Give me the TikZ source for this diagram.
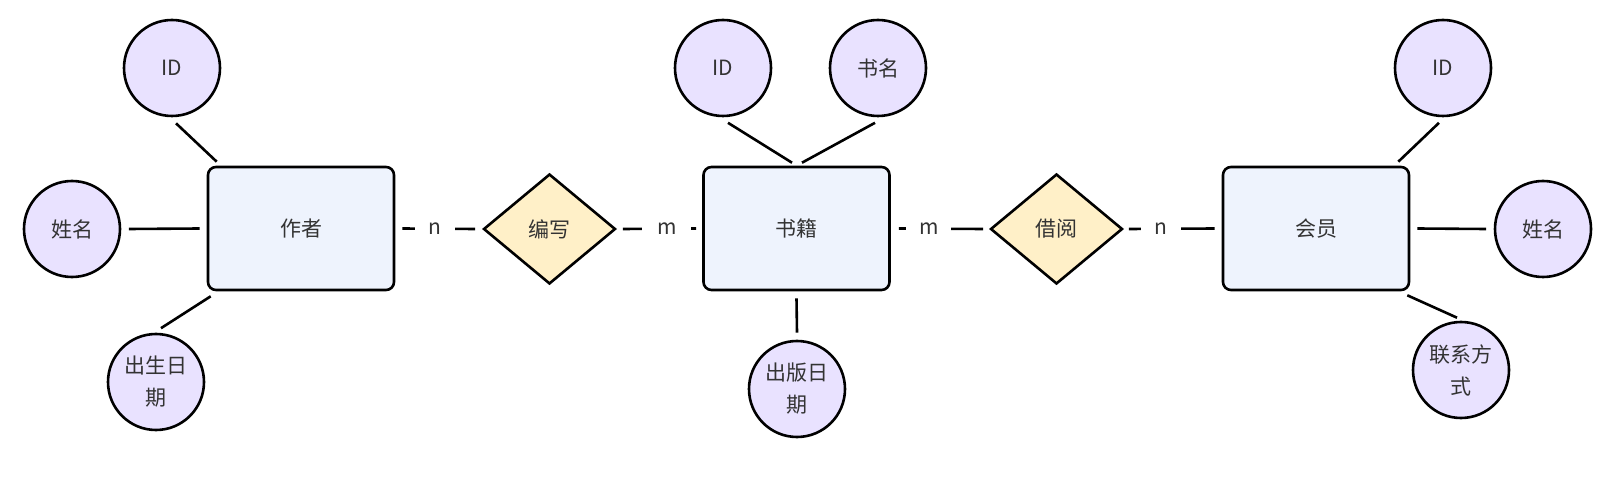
\documentclass[tikz,border=0pt]{standalone}
\usepackage{fontspec}
\setmainfont{Noto Sans CJK SC}
\usetikzlibrary{shapes.geometric}
\definecolor{attrfill}{HTML}{E9E2FF}
\definecolor{entfill}{HTML}{EEF3FD}
\definecolor{relfill}{HTML}{FFF0C8}
\definecolor{txt}{HTML}{333333}
\tikzset{
  attr/.style={circle, draw=black, line width=1.3pt, fill=attrfill, minimum size=48pt,
    inner sep=0pt, align=center, text=txt, font=\fontsize{10.5}{16}\selectfont},
  entity/.style={rectangle, rounded corners=4pt, draw=black, line width=1.3pt, fill=entfill,
    minimum width=93pt, minimum height=61.5pt, text=txt, font=\fontsize{10.5}{16}\selectfont},
  rel/.style={diamond, draw=black, line width=1.3pt, fill=relfill, aspect=1.2,
    minimum width=66pt, minimum height=55pt, inner sep=0pt, text=txt, font=\fontsize{10.5}{16}\selectfont},
  conn/.style={draw=black, line width=1.3pt},
  card/.style={fill=white, text=txt, inner sep=0pt, minimum height=8pt, font=\fontsize{10.5}{12}\selectfont}
}
\begin{document}
\begin{tikzpicture}[x=0.5pt, y=-0.5pt]
\useasboundingbox (0,0) rectangle (1606,486);
% entities
\node[entity] (author) at (301,228.5) {作者};
\node[entity] (book) at (796.5,228.5) {书籍};
\node[entity] (member) at (1316,228.5) {会员};
% relationships
\node[rel] (write) at (549.5,229) {编写};
\node[rel] (borrow) at (1056.5,229) {借阅};
% attributes
\node[attr] (aid) at (172,68) {ID};
\node[attr] (aname) at (72,229) {姓名};
\node[attr] (abirth) at (156,382) {出生日\\期};
\node[attr] (bid) at (723,68) {ID};
\node[attr] (bname) at (878,68) {书名};
\node[attr] (bdate) at (797,389) {出版日\\期};
\node[attr] (mid) at (1443,68) {ID};
\node[attr] (mname) at (1543,229) {姓名};
\node[attr] (mcontact) at (1461,370) {联系方\\式};
% attribute connectors
\draw[conn] ([shift={(4,6)}]aid.south) -- ([shift={(10,-4)}]author.north west);
\draw[conn] ([shift={(7.5,0)}]aname.east) -- ([shift={(-7,0)}]author.west);
\draw[conn] ([shift={(4,5)}]author.south west) -- ([shift={(5,-4.5)}]abirth.north);
\draw[conn] ([shift={(5,5.5)}]bid.south) -- ([shift={(-4.5,-3)}]book.north);
\draw[conn] ([shift={(-3,5.5)}]bname.south) -- ([shift={(5.5,-3)}]book.north);
\draw[conn] ([shift={(0,7)}]book.south) -- ([shift={(0,-7)}]bdate.north);
\draw[conn] ([shift={(-4,5.5)}]mid.south) -- ([shift={(-12,-4)}]member.north east);
\draw[conn] ([shift={(7,0)}]member.east) -- ([shift={(-7.5,0)}]mname.west);
\draw[conn] ([shift={(-3,4)}]member.south east) -- ([shift={(-4,-3)}]mcontact.north);
% relationship connectors
\draw[conn] ([shift={(7,0)}]author.east) -- node[card, pos=0.45, minimum width=20pt] {n} ([shift={(-7,0)}]write.west);
\draw[conn] ([shift={(6,0)}]write.east) -- node[card, pos=0.6, minimum width=24.5pt] {m} ([shift={(-6,0)}]book.west);
\draw[conn] ([shift={(8,0)}]book.east) -- node[card, pos=0.355, minimum width=22.5pt] {m} ([shift={(-6,0)}]borrow.west);
\draw[conn] ([shift={(5,0)}]borrow.east) -- node[card, pos=0.376, minimum width=20pt] {n} ([shift={(-7,0)}]member.west);
\end{tikzpicture}
\end{document}
